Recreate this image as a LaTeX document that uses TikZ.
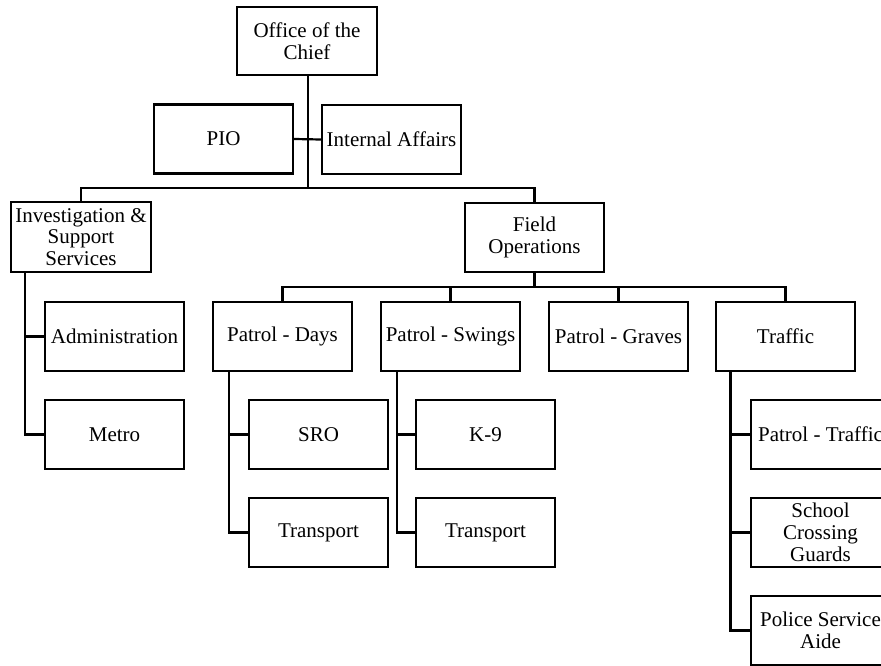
\documentclass[tikz,border=0pt]{standalone}
\usepackage{fontspec}
\setmainfont{Liberation Serif}
\begin{document}
\begin{tikzpicture}[x=1pt,y=-1pt,
  box/.style={draw,line width=2.2pt,rectangle,inner sep=0pt,minimum width=139pt,minimum height=69pt,align=center,font=\fontsize{21}{21.8}\selectfont},
  conn/.style={line width=2.2pt}]
\useasboundingbox (0,0) rectangle (881,666);
\clip (0,0) rectangle (881,666);
\node[box,minimum width=140pt,minimum height=68pt] (chief) at (307,41) {Office of the\\Chief};
\node[box] (pio) at (223.5,139) {PIO};
\node[box] (ia) at (391.5,139.5) {Internal Affairs};
\node[box,minimum width=140pt,minimum height=70pt] (inv) at (81,237) {Investigation \&\\Support\\Services};
\node[box] (field) at (534.5,237.5) {Field\\Operations};
\node[box] (admin) at (114.5,336.5) {Administration};
\node[box] (metro) at (114.5,434.5) {Metro};
\node[box] (days) at (282.5,336.5) {Patrol - Days};
\node[box] (swings) at (450.5,336.5) {Patrol - Swings};
\node[box] (graves) at (618.5,336.5) {Patrol - Graves};
\node[box] (traffic) at (785.5,336.5) {Traffic};
\node[box] (sro) at (318.5,434.5) {SRO};
\node[box] (trans1) at (318.5,532.5) {Transport};
\node[box] (k9) at (485.5,434.5) {K-9};
\node[box] (trans2) at (485.5,532.5) {Transport};
\node[box] (ptraffic) at (820.5,434.5) {Patrol - Traffic};
\node[box] (school) at (820.5,532.5) {School\\Crossing\\Guards};
\node[box] (psa) at (820.5,630.5) {Police Service\\Aide};
% top connectors
\coordinate (cj) at (308,188);
\draw[conn] (cj |- chief.south) -- (cj);
\draw[conn] (pio.east) -- (ia.west);
\draw[conn] (inv.north) |- (cj) -| (field.north);
% field operations
\coordinate (fj) at (534.5,287);
\draw[conn] (field.south) -- (fj);
\draw[conn] (days.north) |- (fj) -| (traffic.north);
\draw[conn] (swings.north) -- (swings.north |- fj);
\draw[conn] (graves.north) -- (graves.north |- fj);
% investigation branch
\coordinate (it) at (25,0);
\draw[conn] (it |- inv.south) |- (metro.west);
\draw[conn] (it |- admin.west) -- (admin.west);
% days branch
\coordinate (dt) at (229,0);
\draw[conn] (dt |- days.south) |- (trans1.west);
\draw[conn] (dt |- sro.west) -- (sro.west);
% swings branch
\coordinate (st) at (397,0);
\draw[conn] (st |- swings.south) |- (trans2.west);
\draw[conn] (st |- k9.west) -- (k9.west);
% traffic branch
\coordinate (tt) at (730.5,0);
\draw[conn] (tt |- traffic.south) |- (psa.west);
\draw[conn] (tt |- ptraffic.west) -- (ptraffic.west);
\draw[conn] (tt |- school.west) -- (school.west);
\end{tikzpicture}
\end{document}
